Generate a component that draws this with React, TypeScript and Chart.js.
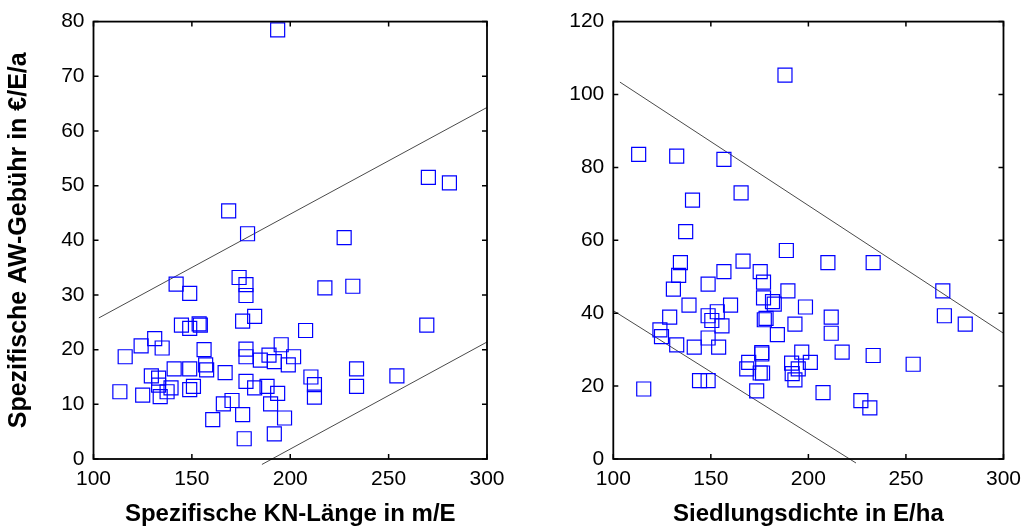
import { useEffect, useRef } from "react";
import { Chart, registerables } from "chart.js";
Chart.register(...registerables);

// Left panel: specific sewer length vs. specific fee
const knLength = [178.3, 174.0, 177.5, 177.5, 142.0, 148.9, 181.9, 175.8, 144.7, 148.9, 153.7, 154.3, 124.2, 131.1, 134.9, 116.1, 156.2, 177.5, 177.5, 189.2, 184.8, 195.4, 191.9, 199.0, 201.7, 157.0, 157.5, 141.0, 148.9, 166.9, 129.4, 133.1, 133.1, 139.4, 137.4, 133.9, 113.4, 125.0, 150.8, 148.9, 177.5, 181.9, 188.2, 193.6, 190.0, 197.1, 170.4, 166.0, 160.6, 175.8, 176.6, 191.9, 193.6, 168.7, 270.2, 280.9, 227.4, 217.6, 231.8, 207.8, 269.4, 210.5, 212.3, 212.3, 233.7, 233.7, 254.2];
const feeByLength = [41.2, 33.2, 31.9, 29.9, 32.0, 30.3, 26.1, 25.2, 24.5, 23.9, 24.7, 24.5, 20.7, 22.0, 20.3, 18.7, 20.0, 20.1, 18.7, 19.0, 18.1, 20.9, 17.8, 17.2, 18.7, 17.2, 16.3, 16.5, 16.5, 15.8, 15.2, 14.8, 13.5, 13.0, 12.3, 11.4, 12.3, 11.7, 13.3, 12.7, 14.2, 13.0, 13.3, 12.0, 10.1, 7.5, 10.7, 10.1, 7.2, 8.1, 3.7, 4.6, 78.5, 45.4, 51.5, 50.5, 40.5, 31.3, 31.6, 23.5, 24.5, 15.0, 13.6, 11.3, 16.5, 13.3, 15.2];
const leftUpperX = [102.7, 300];
const leftUpperY = [25.8, 64.3];
const leftLowerX = [185.6, 300];
const leftLowerY = [-1.0, 21.4];

// Right panel: settlement density vs. fee
const density = [188.0, 113.0, 132.5, 156.7, 140.6, 165.5, 137.1, 188.7, 166.5, 134.4, 133.5, 156.7, 175.3, 177.0, 148.6, 130.8, 189.5, 177.0, 181.6, 182.5, 138.8, 160.1, 198.5, 128.9, 148.6, 153.3, 150.5, 155.7, 177.4, 178.3, 193.1, 123.9, 124.7, 184.1, 148.6, 132.5, 141.5, 154.0, 196.6, 176.1, 176.1, 169.4, 201.0, 168.4, 176.5, 175.3, 191.4, 194.8, 191.7, 193.1, 144.2, 148.6, 115.6, 173.5, 210.0, 233.2, 268.9, 269.7, 280.4, 211.7, 211.7, 217.3, 233.2, 253.7, 207.5, 226.9, 231.5];
const feeByDensity = [105.3, 83.6, 83.1, 82.2, 71.0, 73.0, 62.4, 57.2, 54.3, 53.9, 50.4, 51.4, 51.4, 48.5, 48.0, 46.6, 46.1, 44.2, 43.2, 42.5, 42.2, 42.2, 41.7, 38.9, 39.3, 40.4, 38.0, 36.5, 38.2, 38.6, 37.0, 35.4, 33.6, 34.1, 33.2, 31.3, 30.7, 30.7, 29.3, 29.2, 28.8, 26.5, 26.5, 24.7, 23.6, 23.6, 26.3, 24.7, 23.4, 21.7, 21.5, 21.5, 19.2, 18.7, 53.9, 53.9, 46.1, 39.3, 37.0, 38.9, 34.5, 29.3, 28.4, 26.0, 18.2, 16.0, 14.0];
const rightUpperX = [103.4, 300];
const rightUpperY = [103.4, 34.5];
const rightLowerX = [100, 224.4];
const rightLowerY = [40.7, -1.1];

const xTicksStep = 50;
const FONT = "'Liberation Sans', Arial, Helvetica, sans-serif";

const framePlugin = {
  id: "frame",
  afterDatasetsDraw(chart: any) {
    const { ctx, chartArea: a, scales } = chart;
    ctx.save();
    ctx.strokeStyle = "#000";
    ctx.lineWidth = 1.8;
    ctx.strokeRect(a.left, a.top, a.right - a.left, a.bottom - a.top);
    ctx.lineWidth = 1.5;
    const tl = 5;
    ctx.beginPath();
    scales.x.ticks.forEach((t: any) => {
      const p = scales.x.getPixelForValue(t.value);
      ctx.moveTo(p, a.bottom);
      ctx.lineTo(p, a.bottom - tl);
      ctx.moveTo(p, a.top);
      ctx.lineTo(p, a.top + tl);
    });
    scales.y.ticks.forEach((t: any) => {
      const p = scales.y.getPixelForValue(t.value);
      ctx.moveTo(a.left, p);
      ctx.lineTo(a.left + tl, p);
      ctx.moveTo(a.right, p);
      ctx.lineTo(a.right - tl, p);
    });
    ctx.stroke();
    ctx.restore();
  },
};

function makeConfig(opts: {
  xs: number[]; ys: number[];
  l1x: number[]; l1y: number[]; l2x: number[]; l2y: number[];
  yMax: number; yStep: number; yTitle: string | null; xTitle: string;
  yWidth: number; rightPad: number;
}): any {
  const pts = opts.xs.map((x, i) => ({ x, y: opts.ys[i] }));
  const line = (xs: number[], ys: number[]) => ({
    data: xs.map((x, i) => ({ x, y: ys[i] })),
    showLine: true,
    pointRadius: 0,
    borderColor: "#4a4a4a",
    borderWidth: 1,
    clip: false,
  });
  return {
    type: "scatter",
    data: {
      datasets: [
        {
          data: pts,
          pointStyle: "rect",
          pointRadius: 9.9,
          borderColor: "#0000ff",
          backgroundColor: "rgba(0,0,0,0)",
          borderWidth: 1.2,
        },
        line(opts.l1x, opts.l1y),
        line(opts.l2x, opts.l2y),
      ],
    },
    options: {
      animation: false,
      responsive: false,
      devicePixelRatio: 1,
      layout: { padding: { top: 21, right: opts.rightPad, left: 0, bottom: 0 } },
      plugins: { legend: { display: false }, tooltip: { enabled: false } },
      scales: {
        x: {
          type: "linear",
          min: 100,
          max: 300,
          grid: { display: false, drawTicks: false },
          border: { display: false },
          ticks: { stepSize: xTicksStep, color: "#000", font: { family: FONT, size: 21 }, padding: 8 },
          title: { display: true, text: opts.xTitle, color: "#000", font: { family: FONT, size: 24, weight: "bold", lineHeight: 1.1 }, padding: { top: 0, bottom: 0 } },
          afterFit: (s: any) => { s.height = 69; },
        },
        y: {
          type: "linear",
          min: 0,
          max: opts.yMax,
          grid: { display: false, drawTicks: false },
          border: { display: false },
          ticks: { stepSize: opts.yStep, color: "#000", font: { family: FONT, size: 21 }, padding: 9 },
          title: opts.yTitle
            ? { display: true, text: opts.yTitle, color: "#000", font: { family: FONT, size: 25, weight: "bold", lineHeight: 1.0 }, padding: { top: 7, bottom: 0 } }
            : { display: false },
          afterFit: (s: any) => { s.width = opts.yWidth; },
        },
      },
    },
    plugins: [framePlugin],
  };
}

function Panel({ left, width, cfg }: { left: number; width: number; cfg: any }) {
  const ref = useRef<HTMLCanvasElement | null>(null);
  useEffect(() => {
    if (!ref.current) return;
    const chart = new Chart(ref.current, cfg);
    return () => chart.destroy();
  }, []);
  return (
    <canvas
      ref={ref}
      width={width}
      height={528}
      style={{ position: "absolute", left, top: 0, width, height: 528 }}
    />
  );
}

export default function App() {
  const leftCfg = makeConfig({
    xs: knLength, ys: feeByLength,
    l1x: leftUpperX, l1y: leftUpperY, l2x: leftLowerX, l2y: leftLowerY,
    yMax: 80, yStep: 10, yTitle: "Spezifische AW-Gebühr in €/E/a",
    xTitle: "Spezifische KN-Länge in m/E", yWidth: 93.5, rightPad: 28,
  });
  const rightCfg = makeConfig({
    xs: density, ys: feeByDensity,
    l1x: rightUpperX, l1y: rightUpperY, l2x: rightLowerX, l2y: rightLowerY,
    yMax: 120, yStep: 20, yTitle: null,
    xTitle: "Siedlungsdichte in E/ha", yWidth: 98.3, rightPad: 21.5,
  });
  return (
    <div style={{ position: "fixed", left: 0, top: 0, width: 1029, height: 528, background: "#fff" }}>
      <Panel left={0} width={515} cfg={leftCfg} />
      <Panel left={515} width={514} cfg={rightCfg} />
    </div>
  );
}
